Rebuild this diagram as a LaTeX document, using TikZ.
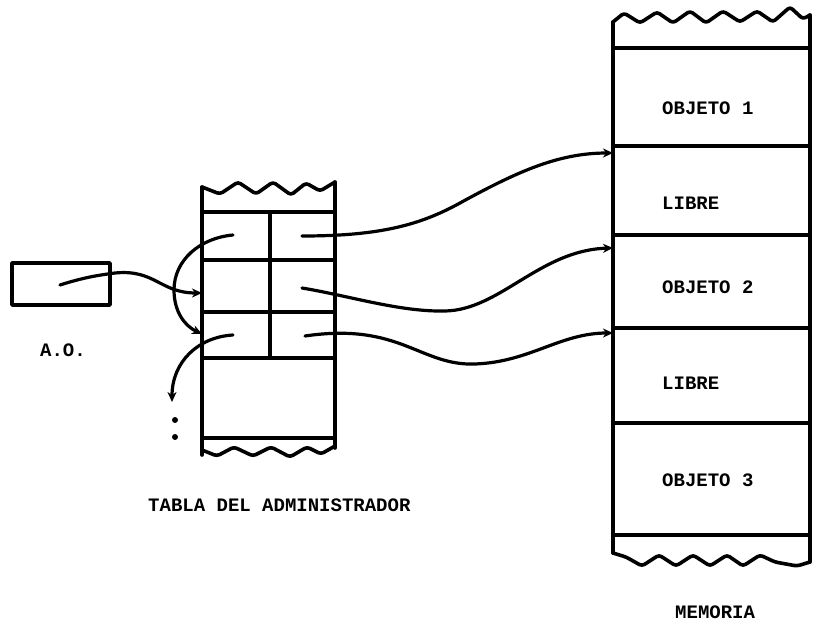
\documentclass[tikz,border=0pt]{standalone}
\usepackage{fontspec}
\setmonofont{Liberation Mono}
\usetikzlibrary{arrows.meta}
\begin{document}
\begin{tikzpicture}[x=1pt,y=-1pt,
  ln/.style={line width=3.6pt,line cap=round,line join=round},
  wave/.style={ln,rounded corners=3pt},
  conn/.style={line width=3.2pt,line cap=round,-{Stealth[length=10pt,width=9pt]}},
  lbl/.style={font=\fontsize{19}{19}\selectfont\ttfamily\bfseries,inner sep=0pt,anchor=west}]
\useasboundingbox (0,0) rectangle (817,629);
% ---- A.O. box
\draw[ln] (12,263) rectangle (110,305);
\node[lbl] (ao) at (40,350) {A.O.};
% ---- table
\draw[ln] (202,187) -- (202,455);
\draw[ln] (335,182) -- (335,448);
\draw[wave] (202,187) -- (220,194) -- (238,182) -- (256,194) -- (273,182) -- (291,195) -- (306,183) -- (320,191) -- (335,182);
\draw[wave] (202,450) -- (217,456) -- (234,447) -- (253,456) -- (271,447) -- (290,457) -- (307,447) -- (321,454) -- (335,446);
\foreach \yy in {212,260,312,358,438} \draw[ln] (202,\yy) -- (335,\yy);
\draw[ln] (270,212) -- (270,358);
\node[lbl] (tabla) at (148,505) {TABLA DEL ADMINISTRADOR};
% ---- memory
\draw[ln] (613,22) -- (613,553);
\draw[ln] (810,15) -- (810,562);
\draw[wave] (613,22) -- (624,13) -- (640,23) -- (657,12) -- (673,23) -- (690,11) -- (706,23) -- (723,11) -- (740,22) -- (757,11) -- (773,22) -- (790,7) -- (803,19) -- (810,15);
\draw[wave] (613,553) -- (626,557) -- (642,566) -- (659,555) -- (676,566) -- (693,555) -- (710,566) -- (727,555) -- (743,566) -- (760,555) -- (775,562) -- (797,566) -- (810,562);
\foreach \yy in {48,146,235,328,423,535} \draw[ln] (613,\yy) -- (810,\yy);
\node[lbl] (o1) at (662,108) {OBJETO 1};
\node[lbl] (l1) at (662,203) {LIBRE};
\node[lbl] (o2) at (662,287) {OBJETO 2};
\node[lbl] (l2) at (662,383) {LIBRE};
\node[lbl] (o3) at (662,480) {OBJETO 3};
\node[lbl] (mem) at (675,612) {MEMORIA};
% ---- connector end points
\coordinate (aoS) at (60,285);
\coordinate (r2in) at (202,293);
\coordinate (r1L) at (233,235);
\coordinate (r3in) at (202,334);
\coordinate (r3L) at (233,335);
\coordinate (down) at (172,402);
\coordinate (r1R) at (302,236);
\coordinate (r2R) at (302,288);
\coordinate (r3R) at (305,336);
\coordinate (m1) at (613,153);
\coordinate (m2) at (613,248);
\coordinate (m3) at (613,333);
% ---- connectors
\draw[conn] (aoS) .. controls (85,277) and (100,275) .. (115,273) .. controls (155,269) and (160,293) .. (r2in);
\draw[conn] (r1L) .. controls (200,238) and (174,260) .. (174,290) .. controls (174,312) and (185,326) .. (r3in);
\draw[conn] (r3L) .. controls (198,337) and (172,362) .. (down);
\fill (175,420) circle (3);
\fill (175,437) circle (3);
\draw[conn] (r1R) .. controls (380,236) and (420,225) .. (460,203) .. controls (520,170) and (560,153) .. (m1);
\draw[conn] (r2R) .. controls (350,296) and (400,312) .. (445,311) .. controls (500,310) and (540,250) .. (m2);
\draw[conn] (r3R) .. controls (400,322) and (420,366) .. (475,364) .. controls (530,362) and (560,333) .. (m3);
\end{tikzpicture}
\end{document}
